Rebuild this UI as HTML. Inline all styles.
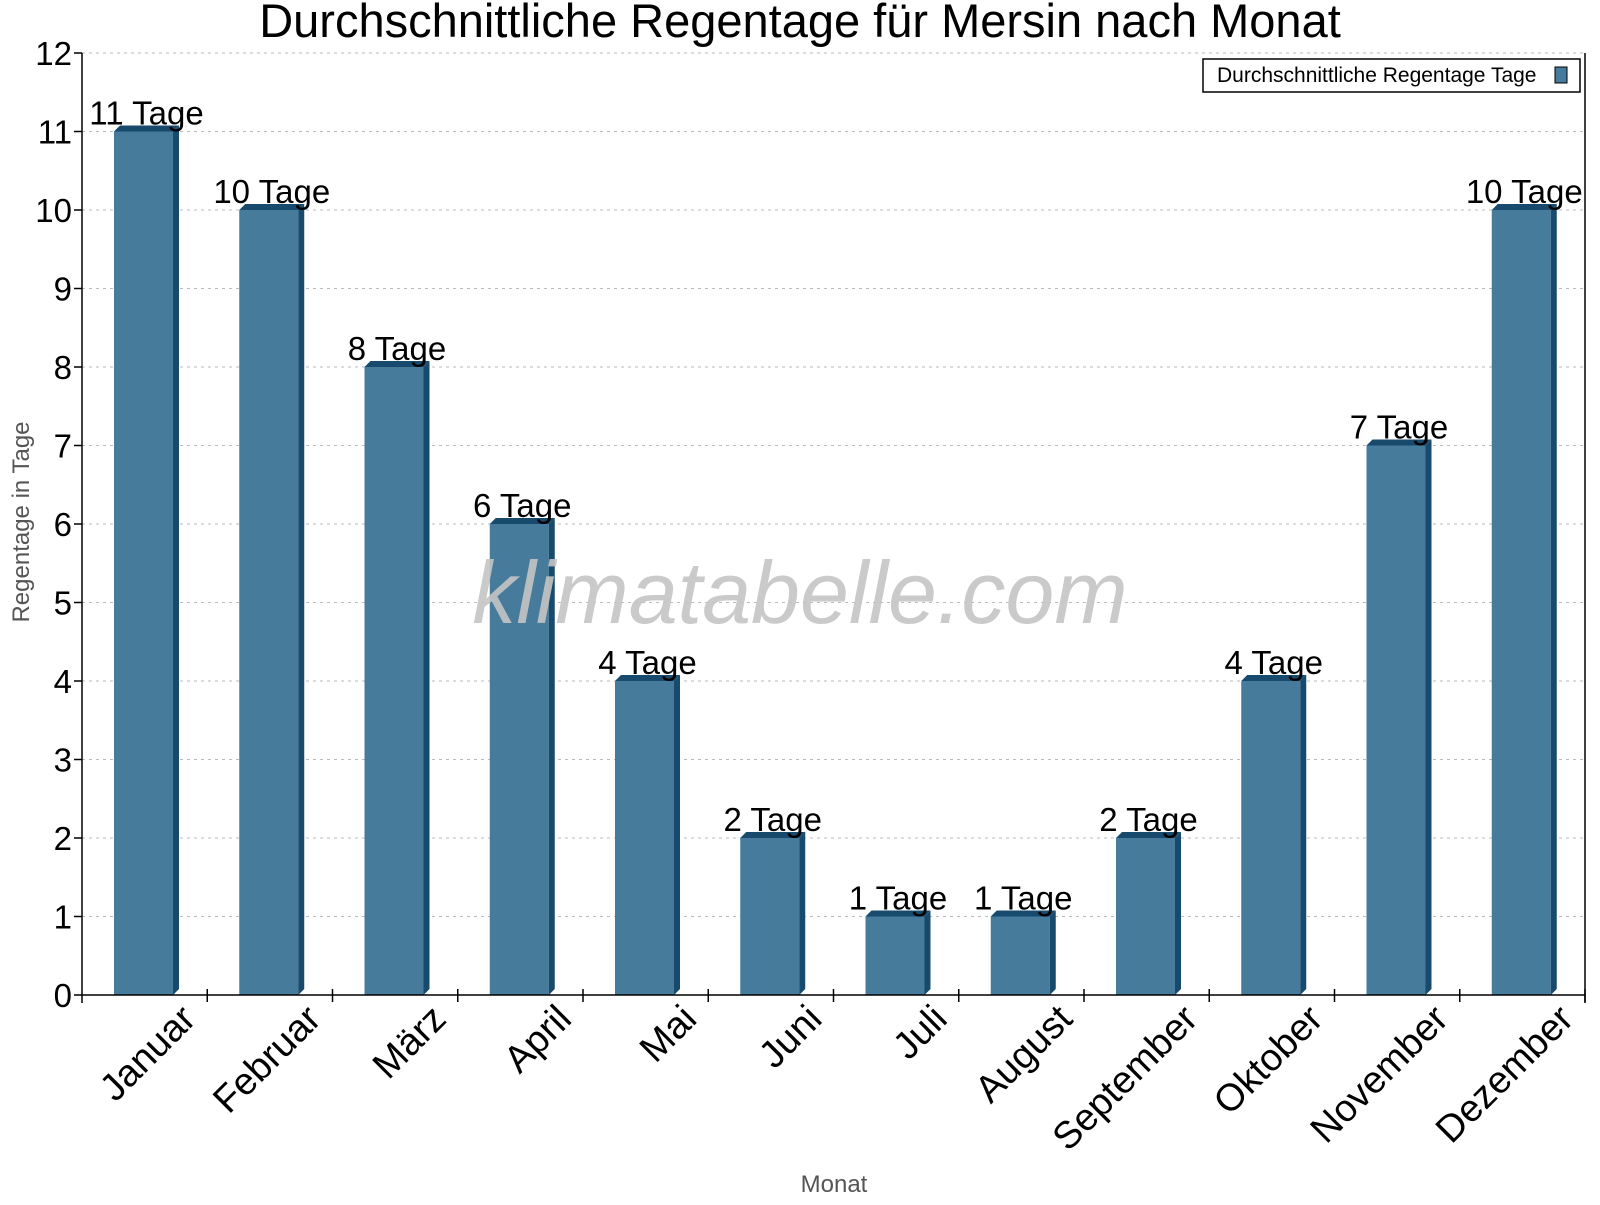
<!DOCTYPE html>
<html><head><meta charset="utf-8"><style>
body{margin:0;background:#fff}
svg text{font-family:"Liberation Sans",sans-serif}
</style></head><body>
<svg id="c" width="1600" height="1200" xmlns="http://www.w3.org/2000/svg">
<text x="800" y="37" font-size="47" text-anchor="middle">Durchschnittliche Regentage für Mersin nach Monat</text>
<g id="grid"></g><g id="bars"></g><g id="axes"></g>
<text x="800" y="623" font-size="88" font-style="italic" fill="#c4c4c4" fill-opacity="0.9" text-anchor="middle">klimatabelle.com</text>
<text transform="translate(29,522) rotate(-90)" font-size="24" fill="#555" text-anchor="middle">Regentage in Tage</text>
<text x="834" y="1192" font-size="24" fill="#555" text-anchor="middle">Monat</text>
<g>
<rect x="1203" y="59" width="377" height="33" fill="#fff" stroke="#000" stroke-width="1.5"/>
<text x="1217" y="82" font-size="21">Durchschnittliche Regentage Tage</text>
<rect x="1555" y="67" width="12" height="16" fill="#467b9c" stroke="#000" stroke-width="1"/>
</g>
</svg>
<script>
const categories=["Januar","Februar","März","April","Mai","Juni","Juli","August","September","Oktober","November","Dezember"];
const values=[11,10,8,6,4,2,1,1,2,4,7,10];
const yTicks=[0,1,2,3,4,5,6,7,8,9,10,11,12];
const NS="http://www.w3.org/2000/svg";
const x0=82,x1=1585,yB=995,yT=53,yMax=12;
const cw=(x1-x0)/categories.length;
function ys(v){return yB-(yB-yT)*v/yMax;}
function xs(i){return x0+i*cw;}
function mk(tag,attrs,parent){const e=document.createElementNS(NS,tag);for(const k in attrs)e.setAttribute(k,attrs[k]);parent.appendChild(e);return e;}
const grid=document.getElementById('grid'),bars=document.getElementById('bars'),axes=document.getElementById('axes');
yTicks.forEach(t=>{
 if(t>0){const g=mk('line',{x1:x0,x2:x1,y1:ys(t),y2:ys(t),stroke:'#bbb','stroke-dasharray':'3,4'},grid);
 
 }
 mk('line',{x1:x0-8,x2:x0,y1:ys(t),y2:ys(t),stroke:'#000','stroke-width':1.5},axes);
 const l=mk('text',{x:x0-10,y:ys(t)+12,'font-size':33,'text-anchor':'end'},axes);
 l.textContent=t;
 
 
});
mk('line',{x1:x0,x2:x0,y1:yT,y2:yB+8,stroke:'#000','stroke-width':1.5},axes);
mk('line',{x1:x1,x2:x1,y1:yT,y2:yB+8,stroke:'#000','stroke-width':1.5},axes);
mk('line',{x1:x0,x2:x1,y1:yB,y2:yB,stroke:'#000','stroke-width':1.5},axes);
categories.forEach((c,i)=>{
 mk('line',{x1:xs(i+1),x2:xs(i+1),y1:yB-6,y2:yB+7,stroke:'#000','stroke-width':1.5},axes);
 const bx=xs(i)+32,bw=59,d=6,top=ys(values[i]);
 const g=mk('g',{},bars);
 
 
 mk('rect',{x:bx,y:top,width:bw,height:yB-top,fill:'#467b9c'},g);
 mk('polygon',{points:`${bx+bw},${top} ${bx+bw+d},${top-d} ${bx+bw+d},${yB-d} ${bx+bw},${yB}`,fill:'#174a6c'},g);
 mk('polygon',{points:`${bx},${top} ${bx+d},${top-d} ${bx+bw+d},${top-d} ${bx+bw},${top}`,fill:'#174a6c'},g);
 const v=mk('text',{x:bx+bw/2+3,y:top-7,'font-size':33,'text-anchor':'middle'},bars);
 v.textContent=values[i]+' Tage';
 
 
 const cx=xs(i)+cw/2+53,cy=yB+26;
 const l=mk('text',{x:cx,y:cy,'font-size':38,'text-anchor':'end',transform:`rotate(-45 ${cx} ${cy})`},axes);
 l.textContent=c;
 
 
});
</script>
</body></html>
